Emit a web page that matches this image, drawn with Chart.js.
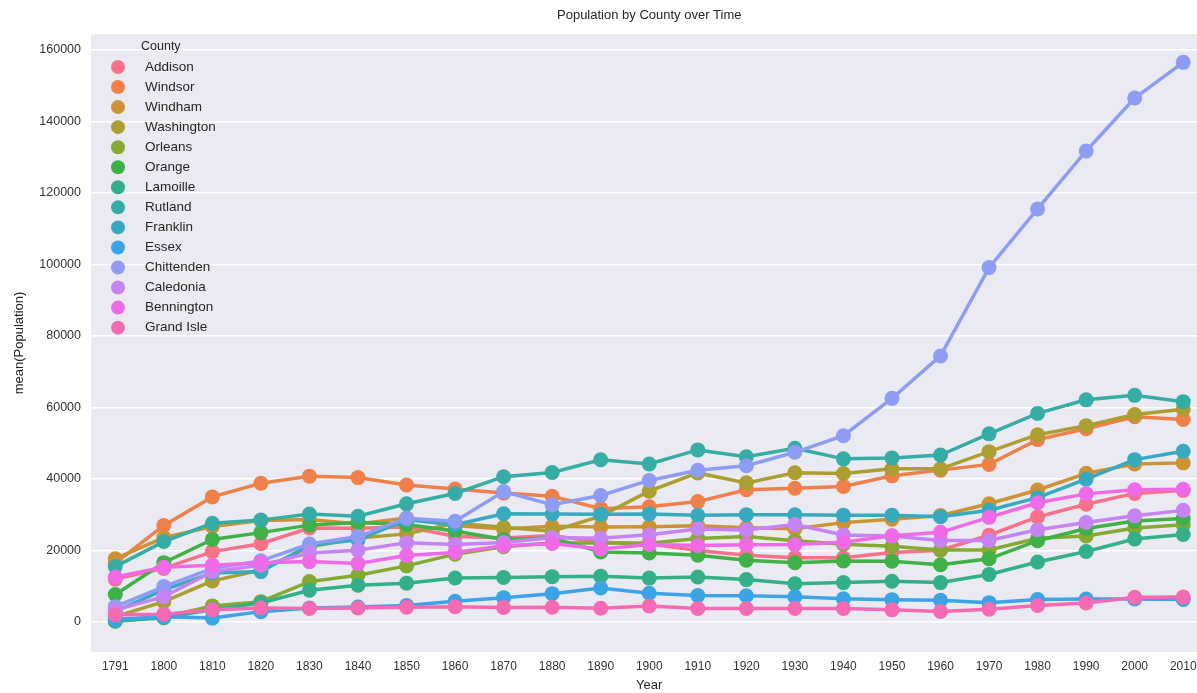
<!DOCTYPE html>
<html>
<head>
<meta charset="utf-8">
<title>Population by County over Time</title>
<script src="https://cdn.jsdelivr.net/npm/chart.js@4.4.1/dist/chart.umd.min.js"></script>
<style>
  html, body { margin: 0; padding: 0; background: #ffffff; overflow: hidden; }
  #wrap { width: 1215px; height: 693px; }
</style>
</head>
<body>
<div id="wrap"><canvas id="chart" width="1215" height="693"></canvas></div>
<script>
// Census years (categorical x axis)
const years = ['1791','1800','1810','1820','1830','1840','1850','1860','1870','1880','1890','1900',
               '1910','1920','1930','1940','1950','1960','1970','1980','1990','2000','2010'];

// County names, in hue order
const counties = ['Addison','Windsor','Windham','Washington','Orleans','Orange','Lamoille',
                  'Rutland','Franklin','Essex','Chittenden','Caledonia','Bennington','Grand Isle'];

// Population per county and year
const addison    = [12000,15000,19700,21900,26300,26200,26549,24010,23484,24173,22277,21912,20010,18666,17952,17944,19442,20076,24266,29406,32953,35974,36821];
const windsor    = [16500,27000,35000,38800,40800,40400,38320,37193,36063,35196,31706,32225,33681,36984,37424,37905,40885,42483,44082,51030,54055,57418,56670];
const windham    = [17700,23600,26700,28400,28700,27400,29062,26982,26036,26763,26547,26660,26932,26373,26100,27800,28749,29776,33074,36933,41588,44216,44513];
const washington = [1500,5700,11500,14500,21000,23500,24654,27612,26520,25404,29606,36607,41702,38921,41733,41546,42870,42860,47659,52393,54928,58039,59534];
const orleans    = [300,1400,4500,5700,11300,13100,15707,18981,21035,22083,22101,22024,23337,23913,22707,21780,21190,20143,20153,23440,24053,26277,27231];
const orange     = [7700,16600,23100,25000,27100,27800,27296,25455,23090,23525,19575,19313,18703,17279,16609,17048,17027,16014,17676,22739,26149,28226,28936];
const lamoille   = [200,1200,3500,5300,8900,10300,10872,12311,12448,12684,12831,12289,12585,11858,10716,11028,11388,11027,13309,16767,19735,23233,24475];
const rutland    = [15500,22500,27600,28500,30200,29600,33059,35946,40651,41829,45397,44209,48139,46213,48608,45638,45905,46719,52637,58347,62142,63400,61642];
const franklin   = [3000,9000,13700,14100,21500,23000,28586,27231,30291,30225,30164,30198,29866,30026,29975,29894,29894,29474,31282,34788,39980,45417,47746];
const essex      = [800,1500,1100,2900,3900,4200,4650,5786,6811,7931,9511,8056,7384,7364,7067,6490,6257,6083,5416,6313,6405,6459,6306];
const chittenden = [4300,9900,15000,17100,21800,23900,29036,28171,36480,32792,35389,39600,42447,43708,47471,52098,62570,74425,99131,115534,131761,146571,156545];
const caledonia  = [3400,7100,14100,15900,19300,20100,22200,21698,22235,23607,23436,24381,26031,25762,27253,24320,24049,22786,22789,25808,27846,29702,31227];
const bennington = [12600,15300,15900,16600,16900,16400,18589,19436,21325,21950,20448,21705,21378,21577,21655,22286,24115,25088,29282,33345,35845,36994,37125];
const grandIsle  = [2000,2200,3400,3900,3800,3900,4145,4276,4082,4124,3843,4462,3761,3784,3782,3784,3406,2927,3574,4613,5318,6901,6970];

const series = [addison, windsor, windham, washington, orleans, orange, lamoille,
                rutland, franklin, essex, chittenden, caledonia, bennington, grandIsle];

// husl-style palette, one hue per county
const colors = ['#f77189','#f0804a','#cd9233','#ad9e31','#86aa31','#3fb146','#33b087',
                '#36ada4','#38aabf','#3ba4e6','#8f9cf4','#c683f4','#ee6ae6','#f56bb3'];

const FONT = '"Liberation Sans", Arial, sans-serif';

const datasets = counties.map((name, i) => ({
  label: name,
  data: series[i],
  borderColor: colors[i],
  backgroundColor: colors[i],
  pointBackgroundColor: colors[i],
  pointBorderWidth: 0,
  pointRadius: 7.5,
  pointHoverRadius: 7.5,
  borderWidth: 3.5,
  tension: 0,
  order: counties.length - i   // later counties are painted on top
}));

// Plot background (seaborn darkgrid look)
const plotBackground = {
  id: 'plotBackground',
  beforeDraw(chart) {
    const { ctx, chartArea: a } = chart;
    ctx.save();
    ctx.fillStyle = '#eaeaf2';
    ctx.fillRect(a.left, a.top, a.right - a.left, a.bottom - a.top);
    ctx.restore();
  }
};

// Title centred over the axes
const axesTitle = {
  id: 'axesTitle',
  afterDraw(chart) {
    const { ctx, chartArea: a } = chart;
    ctx.save();
    ctx.font = '13px ' + FONT;
    ctx.fillStyle = '#262626';
    ctx.textAlign = 'center';
    ctx.textBaseline = 'middle';
    ctx.fillText('Population by County over Time', (a.left + a.right) / 2, 15);
    ctx.restore();
  }
};

// Legend inside the axes, upper-left, no frame
const innerLegend = {
  id: 'innerLegend',
  afterDatasetsDraw(chart) {
    const { ctx } = chart;
    ctx.save();
    ctx.textBaseline = 'middle';
    ctx.textAlign = 'left';
    ctx.font = '12.5px ' + FONT;
    ctx.fillStyle = '#262626';
    ctx.fillText('County', 141, 47);
    ctx.font = '13.5px ' + FONT;
    chart.data.datasets.forEach((ds, i) => {
      const y = 67 + i * 20.05;
      ctx.beginPath();
      ctx.fillStyle = ds.borderColor;
      ctx.arc(118, y, 7, 0, Math.PI * 2);
      ctx.fill();
      ctx.fillStyle = '#262626';
      ctx.fillText(ds.label, 145, y);
    });
    ctx.restore();
  }
};

new Chart(document.getElementById('chart'), {
  type: 'line',
  data: { labels: years, datasets },
  options: {
    responsive: false,
    animation: false,
    events: [],
    layout: { padding: { top: 34, right: 6, left: 0, bottom: 0 } },
    plugins: {
      legend: { display: false },
      title: { display: false },
      tooltip: { enabled: false }
    },
    scales: {
      x: {
        type: 'category',
        offset: true,
        grid: { display: false, drawTicks: false },
        border: { display: false },
        ticks: { color: '#333', font: { family: FONT, size: 12 }, padding: 7, maxRotation: 0, autoSkip: false },
        title: { display: true, text: 'Year', color: '#262626', font: { family: FONT, size: 13 }, padding: { top: 2, bottom: 0 } },
        afterFit(scale) { scale.height = 41; }
      },
      y: {
        min: -8390,
        max: 164480,
        grid: { color: '#ffffff', lineWidth: 1.6, drawTicks: false },
        border: { display: false },
        afterBuildTicks(scale) {
          const t = [];
          for (let v = 0; v <= 160000; v += 20000) t.push({ value: v });
          scale.ticks = t;
        },
        ticks: {
          color: '#333',
          font: { family: FONT, size: 12.5 },
          padding: 10,
          callback: (v) => String(v)
        },
        title: { display: true, text: 'mean(Population)', color: '#262626', font: { family: FONT, size: 13 }, padding: { top: 12, bottom: 0 } },
        afterFit(scale) { scale.width = 91; }
      }
    }
  },
  plugins: [plotBackground, axesTitle, innerLegend]
});
</script>
</body>
</html>
